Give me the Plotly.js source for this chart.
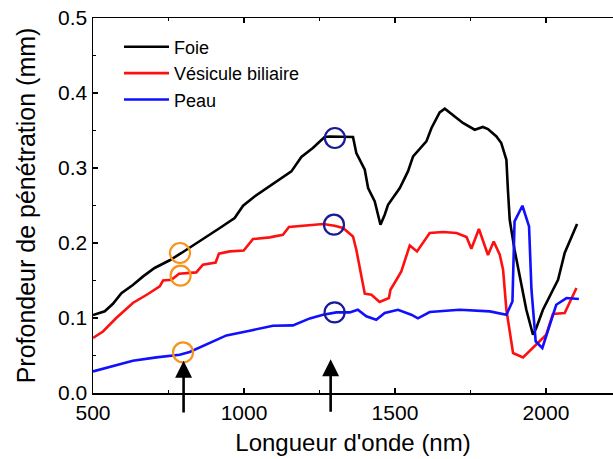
<!DOCTYPE html>
<html>
<head>
<meta charset="utf-8">
<script src="https://cdn.plot.ly/plotly-3.0.1.min.js"></script>
<style>html,body{margin:0;padding:0;background:#fff;}#chart{width:613px;height:459px;}</style>
</head>
<body>
<div id="chart"></div>
<script>
// Foie (liver)
var foieX = [500,539,566,594,632,666,704,754,793,853,920,969,997,1035,1107,1157,1190,1228,1267,1284,1361,1372,1400,1411,1433,1452,1466,1477,1516,1543,1560,1604,1621,1648,1665,1698,1725,1764,1791,1808,1836,1852,1869,1874,1880,1896,1913,1924,1935,1957,1968,1990,2018,2040,2062,2084,2103];
var foieY = [0.104,0.109,0.119,0.133,0.144,0.1555,0.1667,0.177,0.1867,0.202,0.22,0.2333,0.2497,0.262,0.282,0.2955,0.3147,0.3267,0.3413,0.342,0.3413,0.32,0.2977,0.2733,0.2555,0.2244,0.2377,0.251,0.2733,0.2955,0.3155,0.3355,0.3533,0.3741,0.379,0.3688,0.36,0.351,0.3547,0.352,0.342,0.3333,0.311,0.271,0.231,0.191,0.1555,0.1377,0.111,0.0777,0.0867,0.111,0.1333,0.151,0.1867,0.2067,0.2253];
// Vésicule biliaire (gallbladder)
var vesX = [500,533,577,632,682,721,732,760,785,842,864,906,917,953,999,1013,1030,1085,1129,1149,1207,1262,1300,1328,1361,1372,1389,1400,1422,1449,1480,1485,1505,1521,1549,1573,1615,1659,1704,1737,1753,1778,1808,1827,1847,1858,1869,1891,1924,1968,2001,2023,2062,2101];
var vesY = [0.0733,0.082,0.1,0.12,0.132,0.1422,0.150,0.151,0.159,0.1608,0.171,0.174,0.1857,0.1888,0.19,0.1964,0.2053,0.2075,0.211,0.2213,0.2235,0.2253,0.223,0.22,0.2088,0.191,0.1555,0.1324,0.131,0.1213,0.1267,0.1377,0.151,0.1621,0.1968,0.1888,0.2133,0.2147,0.2133,0.208,0.1924,0.2187,0.184,0.2021,0.1844,0.1644,0.111,0.0533,0.0475,0.0644,0.0777,0.1053,0.1067,0.14];
// Peau (skin)
var peauX = [500,566,632,710,787,820,875,942,1019,1096,1162,1218,1262,1306,1350,1377,1405,1438,1466,1510,1554,1576,1615,1714,1814,1869,1889,1896,1922,1944,1952,1966,1988,2012,2034,2068,2109];
var peauY = [0.0288,0.0355,0.0431,0.0475,0.051,0.0547,0.0644,0.0768,0.0831,0.0897,0.0902,0.0995,0.1044,0.1075,0.1075,0.111,0.1022,0.0977,0.1067,0.111,0.1044,0.0995,0.108,0.111,0.1088,0.1044,0.1221,0.2288,0.2497,0.2221,0.1377,0.0688,0.06,0.091,0.1177,0.1266,0.1253];
// highlighted points
var orangeX = [788,790,798];
var orangeY = [0.1867,0.1564,0.0541];
var navyX = [1301,1298,1300];
var navyY = [0.34,0.2244,0.1075];
// arrows
var arrowX = [800,1287];
var arrowTip = [0.043,0.045];
var arrowBase = [-0.028,-0.027];
var seriesNames = ['Foie','Vésicule biliaire','Peau'];

var FONT = 'Liberation Sans, Arial, sans-serif';
var traces = [
  {x: foieX, y: foieY, name: seriesNames[0], mode: 'lines', line: {color: '#000000', width: 2.6}},
  {x: vesX, y: vesY, name: seriesNames[1], mode: 'lines', line: {color: '#FF1010', width: 2.6}},
  {x: peauX, y: peauY, name: seriesNames[2], mode: 'lines', line: {color: '#1010FF', width: 2.6}},
  {x: orangeX, y: orangeY, mode: 'markers', showlegend: false, cliponaxis: false,
   marker: {symbol: 'circle-open', size: 20, color: '#F7941D', line: {width: 2.2}}},
  {x: navyX, y: navyY, mode: 'markers', showlegend: false, cliponaxis: false,
   marker: {symbol: 'circle-open', size: 20, color: '#1A1A99', line: {width: 2.2}}}
];
var annotations = arrowX.map(function(x, i){
  return {x: x, y: arrowTip[i], ax: x, ay: arrowBase[i], xref: 'x', yref: 'y', axref: 'x', ayref: 'y',
    text: '', showarrow: true, arrowhead: 2, arrowsize: 1.3, arrowwidth: 2.6, arrowcolor: '#000'};
});
var layout = {
  width: 613, height: 459,
  margin: {l: 93, r: 0, t: 18, b: 66},
  paper_bgcolor: '#fff', plot_bgcolor: '#fff',
  font: {family: FONT, color: '#000'},
  showlegend: true,
  legend: {x: 0.05, y: 0.972, xanchor: 'left', yanchor: 'top', bgcolor: 'rgba(0,0,0,0)',
    font: {family: FONT, size: 18, color: '#000'}, itemwidth: 45, tracegroupgap: 0},
  xaxis: {range: [500, 2222], showgrid: false, zeroline: false, showline: true, linecolor: '#000', linewidth: 1.5,
    mirror: 'allticks', ticks: 'inside', ticklen: 5, tickwidth: 1.5, tickcolor: '#000', dtick: 500, tick0: 500,
    minor: {ticks: 'inside', ticklen: 3, tickwidth: 1.2, tickcolor: '#000', dtick: 250, tick0: 500},
    tickfont: {family: FONT, size: 21, color: '#000'},
    title: {text: "Longueur d'onde (nm)", font: {family: FONT, size: 24, color: '#000'}, standoff: 11}},
  yaxis: {range: [0, 0.5], showgrid: false, zeroline: false, showline: true, linecolor: '#000', linewidth: 1.5,
    mirror: false, ticks: 'inside', ticklen: 5, tickwidth: 1.5, tickcolor: '#000', dtick: 0.1, tick0: 0,
    tickformat: '.1f',
    minor: {ticks: 'inside', ticklen: 3, tickwidth: 1.2, tickcolor: '#000', dtick: 0.05, tick0: 0},
    tickfont: {family: FONT, size: 21, color: '#000'},
    title: {text: 'Profondeur de pénétration (mm)', font: {family: FONT, size: 25, color: '#000'}, standoff: 15}},
  annotations: annotations
};
Plotly.newPlot('chart', traces, layout, {staticPlot: true, displayModeBar: false});
</script>
</body>
</html>
